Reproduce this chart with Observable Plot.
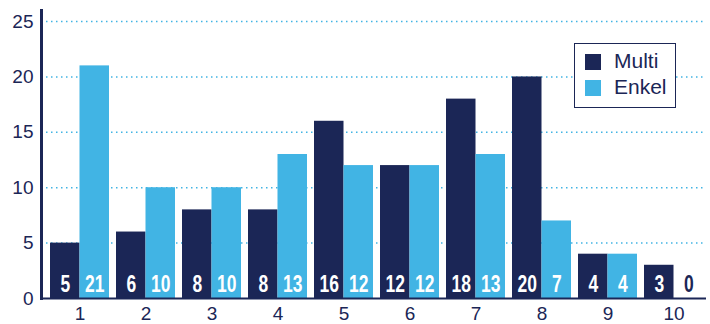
<!DOCTYPE html>
<html>
<head>
<meta charset="utf-8">
<script src="https://cdn.jsdelivr.net/npm/d3@7"></script>
<script src="https://cdn.jsdelivr.net/npm/@observablehq/plot@0.6"></script>
<style>
  html, body { margin: 0; padding: 0; background: #fff; }
  #wrap { position: relative; width: 710px; height: 324px; overflow: hidden; }
  .legend { position: absolute; left: 574px; top: 43px; width: 100px; height: 63px;
    border: 1.5px solid #1b2656; background: #fff; font-family: "Liberation Sans", Arial, sans-serif;
    font-size: 21px; color: #1b2656; }
  .legend .row { position: absolute; left: 10px; height: 16px; }
  .legend .sw { position: absolute; left: 0; top: 0; width: 16px; height: 16px; }
  .legend .lbl { position: absolute; left: 29px; top: -5px; line-height: 24px; white-space: nowrap; }
</style>
</head>
<body>
<div id="wrap"></div>
<script>
const categories = ["1","2","3","4","5","6","7","8","9","10"];
const series = ["Multi", "Enkel"];
const multiValues = [5, 6, 8, 8, 16, 12, 18, 20, 4, 3];
const enkelValues = [21, 10, 10, 13, 12, 12, 13, 7, 4, 0];
const yTicks = [0, 5, 10, 15, 20, 25];
const gridTicks = [5, 10, 15, 20, 25];

const navy = "#1b2656";
const light = "#41b4e4";

const multi = categories.map((c, i) => ({cat: c, value: multiValues[i]}));
const enkel = categories.map((c, i) => ({cat: c, value: enkelValues[i]}));

const halfBand = 29.5;
const labelFont = "'Liberation Sans', Arial, sans-serif";

const chart = Plot.plot({
  width: 710,
  height: 324,
  marginLeft: 41,
  marginRight: 4,
  marginTop: 10,
  marginBottom: 26,
  style: {fontFamily: "'Liberation Sans', Arial, sans-serif", fontSize: "19px", background: "#fff", overflow: "visible"},
  x: {type: "band", domain: categories, range: [48, 705], paddingInner: 0.112, paddingOuter: 0, label: null},
  y: {domain: [0, 26], label: null},
  marks: [
    Plot.ruleY(gridTicks, {stroke: light, strokeWidth: 1.5, strokeDasharray: "1.5,3.5"}),
    Plot.barY(multi, {x: "cat", y: "value", fill: navy, insetLeft: 0, insetRight: halfBand}),
    Plot.barY(enkel, {x: "cat", y: "value", fill: light, insetLeft: halfBand, insetRight: 0}),
    Plot.ruleY([0], {stroke: navy, strokeWidth: 2}),
    Plot.frame({anchor: "left", stroke: navy, strokeWidth: 3}),
    Plot.text(multi, {x: "cat", y: 0, text: d => String(d.value), dx: -halfBand / 2, dy: -14,
      fill: "#fff", fontSize: 23, fontWeight: "bold", fontFamily: labelFont, className: "barlbl"}),
    Plot.text(enkel, {x: "cat", y: 0, text: d => String(d.value), dx: halfBand / 2, dy: -14,
      fill: d => d.value === 0 ? navy : "#fff", fontSize: 23, fontWeight: "bold", fontFamily: labelFont, className: "barlbl"}),
    Plot.axisX({tickSize: 0, tickPadding: 8, fontSize: 19, color: navy, label: null}),
    Plot.axisY(yTicks, {tickSize: 0, tickPadding: 8, fontSize: 19, color: navy, label: null})
  ]
});

// condense the bar value labels horizontally (style only)
chart.querySelectorAll(".barlbl text").forEach(t => {
  const tr = t.getAttribute("transform") || "";
  t.setAttribute("transform", (tr + " scale(0.76,1)").trim());
});

const wrap = document.getElementById("wrap");
wrap.appendChild(chart);

const legend = document.createElement("div");
legend.className = "legend";
const colors = [navy, light];
series.forEach((s, i) => {
  const row = document.createElement("div");
  row.className = "row";
  row.style.top = (10 + i * 26) + "px";
  row.innerHTML = `<div class="sw" style="background:${colors[i]}"></div><div class="lbl">${s}</div>`;
  legend.appendChild(row);
});
wrap.appendChild(legend);
</script>
</body>
</html>
